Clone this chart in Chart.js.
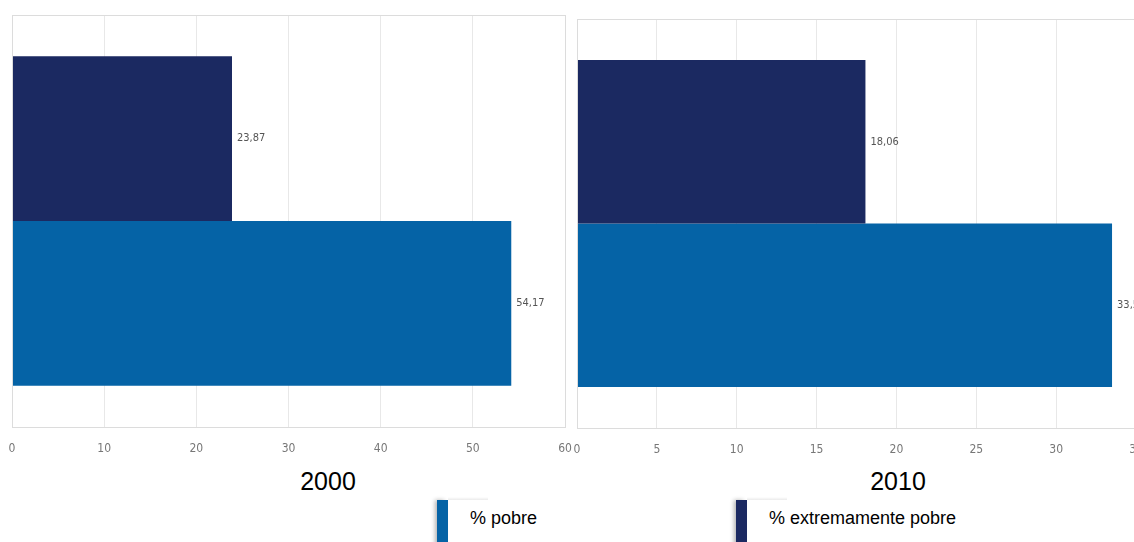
<!DOCTYPE html>
<html>
<head>
<meta charset="utf-8">
<script src="https://cdn.jsdelivr.net/npm/chart.js@4.4.1/dist/chart.umd.min.js"></script>
<style>
  html, body { margin: 0; padding: 0; background: #fff; overflow: hidden; width: 1134px; height: 542px; }
  .panel { position: absolute; }
  .year { position: absolute; font-family: 'Liberation Sans', Arial, sans-serif; font-size: 25px; color: #000; transform: translate(-50%, -50%); }
  .leg { position: absolute; top: 500px; height: 50px; border-left: 11px solid; box-shadow: -3px -1px 4px -1px rgba(0,0,0,0.3); }
  .leg::before { content: ''; position: absolute; left: 0; top: -3px; width: 40px; height: 3px; background: linear-gradient(to bottom, rgba(255,255,255,0), rgba(0,0,0,0.08)); }
  .leg span { position: absolute; left: 22px; top: 8px; font-family: 'Liberation Sans', Arial, sans-serif; font-size: 18px; color: #000; white-space: nowrap; }
</style>
</head>
<body>
<div class="panel" style="left:0;top:0;width:580px;height:457px"><canvas id="c0"></canvas></div>
<div class="panel" style="left:566px;top:0;width:590px;height:458px"><canvas id="c1"></canvas></div>
<div class="year" id="t0" style="left:328px;top:481px"></div>
<div class="year" id="t1" style="left:898px;top:481px"></div>
<div class="leg" style="left:437px;width:0;border-color:#0563a6"><span id="l0"></span></div>
<div class="leg" style="left:736px;width:0;border-color:#1b2961"><span id="l1"></span></div>
<script>
  // datos
  const years = ['2000', '2010'];
  const seriesNames = ['% pobre', '% extremamente pobre'];
  const pobre = [54.17, 33.5];
  const extremo = [23.87, 18.06];
  const xMax = [60, 35];
  const xStep = [10, 5];

  const colPobre = '#0563a6';
  const colExtremo = '#1b2961';
  const narrow = "'Liberation Sans Narrow', 'DejaVu Sans Condensed', sans-serif";

  const fmt = v => String(v).replace('.', ',');

  // marco del área de trazado
  const plotFrame = {
    id: 'plotFrame',
    afterDraw(chart) {
      const { ctx, chartArea: a } = chart;
      ctx.save();
      ctx.strokeStyle = '#dcdcdc';
      ctx.lineWidth = 1;
      ctx.strokeRect(a.left + 0.5, a.top + 0.5, a.right - a.left, a.bottom - a.top);
      ctx.restore();
    },
  };

  // etiquetas de valor al final de cada barra
  const valueLabels = {
    id: 'valueLabels',
    afterDatasetsDraw(chart) {
      const { ctx } = chart;
      ctx.save();
      ctx.font = '11px ' + narrow;
      ctx.fillStyle = '#555';
      ctx.textBaseline = 'middle';
      chart.data.datasets.forEach((ds, di) => {
        chart.getDatasetMeta(di).data.forEach((bar, i) => {
          ctx.fillText(fmt(ds.data[i]), bar.x + 5, bar.y);
        });
      });
      ctx.restore();
    },
  };

  const pads = [
    { left: 12, right: 15, top: 15, bottom: 0 },
    { left: 11, right: 20, top: 19, bottom: 0 },
  ];

  years.forEach((yr, i) => {
    document.getElementById('t' + i).textContent = yr;
    new Chart(document.getElementById('c' + i), {
      type: 'bar',
      data: {
        labels: [yr],
        datasets: [
          { label: seriesNames[1], data: [extremo[i]], backgroundColor: colExtremo },
          { label: seriesNames[0], data: [pobre[i]], backgroundColor: colPobre },
        ],
      },
      options: {
        indexAxis: 'y',
        responsive: true, maintainAspectRatio: false,
        animation: false,
        layout: { padding: pads[i] },
        datasets: { bar: { categoryPercentage: 0.8, barPercentage: 1.0 } },
        plugins: { legend: { display: false }, tooltip: { enabled: false } },
        scales: {
          x: {
            min: 0, max: xMax[i],
            grid: { color: '#e8e8e8', drawTicks: false },
            border: { display: false },
            ticks: { stepSize: xStep[i], padding: 15, color: '#777', font: { family: narrow, size: 12 } },
            afterFit: s => { s.height = 30; s.paddingLeft = 0; s.paddingRight = 0; },
          },
          y: { display: false },
        },
      },
      plugins: [plotFrame, valueLabels],
    });
  });

  document.getElementById('l0').textContent = seriesNames[0];
  document.getElementById('l1').textContent = seriesNames[1];
</script>
</body>
</html>
